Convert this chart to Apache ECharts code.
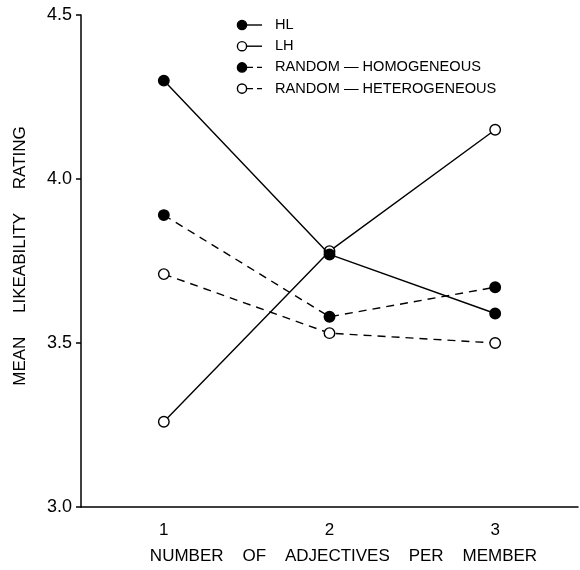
<!DOCTYPE html>
<html>
<head>
<meta charset="utf-8">
<script src="https://cdn.jsdelivr.net/npm/echarts@6/dist/echarts.min.js"></script>
<style>html,body{margin:0;padding:0;background:#fff;}#c{width:580px;height:570px;}</style>
</head>
<body>
<div id="c"></div>
<script>
const categories = ['1', '2', '3'];
const seriesNames = ['HL', 'LH', 'RANDOM — HOMOGENEOUS', 'RANDOM — HETEROGENEOUS'];
const hl = [4.30, 3.77, 3.59];
const lh = [3.26, 3.78, 4.15];
const randomHomo = [3.89, 3.58, 3.67];
const randomHetero = [3.71, 3.53, 3.50];
const yMin = 3.0, yMax = 4.5, yStep = 0.5;
const xTitle = 'NUMBER    OF    ADJECTIVES    PER    MEMBER';
const yTitle = 'MEAN     LIKEABILITY     RATING';

const FONT = 'Liberation Sans';
const filled = [true, false, true, false];
const dashed = [false, false, true, true];
const values = [hl, lh, randomHomo, randomHetero];

const chart = echarts.init(document.getElementById('c'), null, {renderer: 'canvas'});

function mkSeries(i) {
  return {
    name: seriesNames[i],
    type: 'line',
    data: values[i],
    symbol: 'circle',
    symbolSize: 10.5,
    z: filled[i] ? 3 : 2,
    lineStyle: {color: '#000', width: 1.4, type: dashed[i] ? [8, 6] : 'solid'},
    itemStyle: {color: filled[i] ? '#000' : '#fff', borderColor: '#000', borderWidth: 1.4},
    emphasis: {disabled: true},
    animation: false
  };
}

const legendItems = [];
seriesNames.forEach((n, i) => {
  const y = 25 + i * 21.2;
  const children = [];
  if (dashed[i]) {
    children.push({type: 'line', shape: {x1: 242, y1: y, x2: 262, y2: y},
      style: {stroke: '#000', lineWidth: 1.4, lineDash: [6, 4], lineDashOffset: -5}});
  } else {
    children.push({type: 'line', shape: {x1: 242, y1: y, x2: 262, y2: y},
      style: {stroke: '#000', lineWidth: 1.4}});
  }
  children.push({type: 'circle', shape: {cx: 242, cy: y, r: 4.6},
    style: {fill: filled[i] ? '#000' : '#fff', stroke: '#000', lineWidth: 1.4}});
  children.push({type: 'text', x: 275, y: y,
    style: {text: n, fill: '#000', font: '14.6px "' + FONT + '"', verticalAlign: 'middle', textAlign: 'left'}});
  legendItems.push({type: 'group', children: children});
});

chart.setOption({
  backgroundColor: '#fff',
  animation: false,
  textStyle: {fontFamily: FONT, color: '#000'},
  grid: {left: 81, right: 2, top: 15, bottom: 61, containLabel: false},
  xAxis: {
    type: 'category',
    data: categories,
    boundaryGap: true,
    name: xTitle,
    nameLocation: 'middle',
    nameGap: 41,
    nameTextStyle: {fontSize: 17, color: '#000', fontFamily: FONT, padding: [0, 0, 0, 28]},
    axisLine: {lineStyle: {color: '#000', width: 1.5}},
    axisTick: {alignWithLabel: true, inside: true, length: 5, lineStyle: {color: '#000', width: 1.5}},
    axisLabel: {fontSize: 17, color: '#000', margin: 15, fontFamily: FONT},
    splitLine: {show: false}
  },
  yAxis: {
    type: 'value',
    min: yMin, max: yMax, interval: yStep,
    name: yTitle,
    nameLocation: 'middle',
    nameRotate: 90,
    nameGap: 52,
    nameTextStyle: {fontSize: 17, color: '#000', fontFamily: FONT, padding: [0, 0, 0, 10]},
    axisLine: {show: true, lineStyle: {color: '#000', width: 1.5}},
    axisTick: {show: true, inside: false, length: 5, lineStyle: {color: '#000', width: 1.5}},
    axisLabel: {fontSize: 18, color: '#000', margin: 9, fontFamily: FONT, formatter: v => v.toFixed(1)},
    splitLine: {show: false}
  },
  series: [mkSeries(1), mkSeries(0), mkSeries(3), mkSeries(2)],
  graphic: legendItems
});
</script>
</body>
</html>
